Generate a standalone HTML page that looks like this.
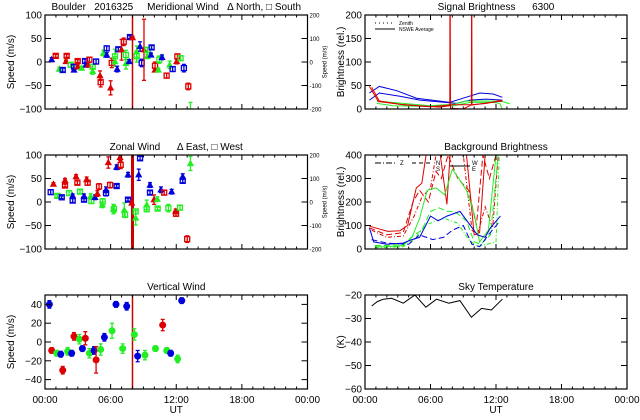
<!DOCTYPE html>
<html><head><meta charset="utf-8"><style>
html,body{margin:0;padding:0;background:#fff;}
svg{display:block;font-family:"Liberation Sans",sans-serif;}
</style></head><body>
<svg id="chart" width="640" height="420" viewBox="0 0 640 420" xmlns="http://www.w3.org/2000/svg"></svg>
<script>
// ---------- DATA ----------
const xTickLabels = ["00:00","06:00","12:00","18:00","00:00"];
const xTickHours = [0,6,12,18,24];
const markerHour = 8.0;

const merHours = [0.61,0.98,1.31,1.62,1.98,1.92,2.35,2.65,2.65,2.99,2.99,3.35,3.66,3.75,4.06,3.96,4.36,4.36,4.67,5.03,5.09,5.34,5.64,5.64,6.1,6.0,6.4,6.4,6.6,6.7,7.0,7.2,7.4,7.4,7.7,7.77,8.0,8.38,8.38,8.69,8.84,9.05,9.36,9.36,9.69,9.75,10.06,10.06,10.36,10.45,10.7,11.12,11.4,11.67,12.1,12.04,12.4,12.7,13.1,13.3];
const merVals = [5,13,-15,-17,13,1,-6,-17,-10,2,-10,-13,2,-6,5,-6,-20,-10,1,-29,-43,19,29,15,-2,-55,12,1,-15,27,26,43,15,-3,1,53,52,22,12,33,-2,26,26,12,15,31,-8,-17,-17,5,10,-29,-6,-15,12,1,8,-13,-52,-93];
const merErr = [4,3,4,4,3,3,5,4,4,3,4,4,4,5,5,5,6,5,5,10,10,6,5,5,10,15,15,10,6,4,22,8,10,12,4,3,3,12,12,10,8,65,5,5,4,4,8,4,4,8,5,5,8,5,5,5,5,8,7,7];
const merColor = ("brgbrrgbbr"+"rgbbrrggbr"+"rgbbrrggbb"+"rrggbbrggb"+"brggbbrrgg"+"brgbrrgbrg").split("");
const merShape = ("tstsststss"+"ttststtsst"+"ststststts"+"tssttsttst"+"ststtsstts"+"tstsstsssn").split("");

const zonHours = [0.52,0.77,1.13,1.53,1.83,1.83,2.2,2.53,2.53,2.84,2.96,3.2,3.57,3.57,3.81,3.9,4.18,4.24,4.57,4.79,4.94,5.24,5.27,5.58,5.58,5.79,5.95,6.25,6.3,6.55,6.55,6.86,6.92,7.25,7.32,7.59,7.59,7.93,8.29,8.29,8.69,8.57,9.3,9.3,9.6,9.6,9.97,10.27,10.3,10.6,10.9,11.28,11.58,11.95,11.98,12.34,12.59,12.59,13.0,13.3];
const zonVals = [21,38,13,10,46,35,19,13,3,54,41,22,12,5,48,41,12,2,10,18,33,-6,1,26,19,84,36,-15,-15,74,34,95,79,-17,-27,58,5,-2,-20,-34,93,58,-15,-6,36,20,5,6,-14,26,20,-13,22,-20,-25,-12,54,45,-79,82];
const zonErr = [5,3,3,3,4,3,5,4,4,4,4,4,5,4,5,5,6,5,5,6,6,6,6,6,6,12,6,10,8,5,3,6,8,15,6,5,3,4,5,15,4,12,6,10,5,4,10,5,3,6,5,8,5,5,5,5,6,4,7,15];
const zonColor = ("brgbrrgbbr"+"rgbbrrggbr"+"rggbbrrggb"+"brrggbbrgg"+"bbggbbrggb"+"rgbrrgbbrg").split("");
const zonShape = ("stsstsstst"+"sststststt"+"ststststst"+"ststststst"+"ststtsttst"+"ssttsstsst").split("");

const verHours = [0.4,0.61,1.07,1.44,1.62,2.07,2.44,2.65,3.14,3.42,3.69,4.06,4.48,4.67,5.09,5.43,6.13,6.49,7.1,7.47,8.17,8.47,9.14,10.1,10.76,11.13,11.49,12.13,12.5];
const verVals = [40,-9,-12,-13,-30,-10,-12,6,3,-7,4,-12,-9,-19,-8,5,12,40,-7,38,8,-15,-14,-7,18,-9,-12,-18,44];
const verErr = [4,3,3,3,4,4,3,4,5,3,7,5,4,14,6,4,8,3,5,4,6,6,5,3,6,3,3,4,3];
const verColor = "brgbrgbrgbrgbrgbgbgbgbggrgbgb".split("");

const skyHours = [0.61,1.13,1.68,2.44,3.51,4.57,5.58,6.55,7.68,8.69,9.75,10.67,11.58,12.59];
const skyVals = [-24.7,-22.8,-21.8,-21.4,-23.5,-20,-25.2,-21.8,-23.5,-22.4,-29.5,-25.7,-26.4,-21.8];

const sigBlue1H = [0.4,1.31,2.9,4.73,7.77,8.99,10.52,11.73,12.59];
const sigBlue1V = [34,48,39,23,14,23,34,32,25];
const sigBlue2H = [0.4,1.31,3.2,5.03,8.38,9.6,11.13,12.59];
const sigBlue2V = [19,34,27,19,12,19,21,19];
const sigRed1H = [0.61,1.31,3.2,5.03,6.86,7.77,7.79,7.83,8.99,9.75,9.77,9.80,11.13,12.59];
const sigRed1V = [46,17,10,6.5,4,7,400,1.4,0,9,400,9,12,19];
const sigRed2H = [0.4,1.22,3.51,5.94,8.08,9.91,12.59];
const sigRed2V = [48,16,9,5,9,9,17];
const sigGreen1H = [1.07,3.51,5.94,8.08,9.30,11.13,12.59,13.26];
const sigGreen1V = [17,12,7,10,17,17,16,11];
const sigGreen2H = [1.07,2.59,5.03,8.08,9.60,11.73,12.34,12.65];
const sigGreen2V = [12,7,6,6.5,14,14,12,-4];

const bgRed1H = [0.4,2.1,3.2,3.9,4.7,5.2,5.6,6.9,7.5,7.8,9.3,10,10.5,11,12];
const bgRed1V = [97,75,78,100,260,280,400,400,190,400,400,60,70,400,400];
const bgRed2H = [0.4,2,3.5,4.4,5,5.8,6.5,7,7.6,8.5,9.5,10.2,10.8,11.4,12];
const bgRed2V = [90,60,70,200,250,200,330,300,400,300,250,100,400,300,400];
const bgRed3H = [0.6,2,3.5,4.5,5.2,6,6.5,8.2,9,9.8,10.3,11,11.7,12.2];
const bgRed3V = [80,50,55,140,220,260,400,400,400,80,60,180,90,400];
const bgGreen1H = [0.9,2,3.5,4.3,5,5.7,6.5,7.3,8,8.6,9.3,10,10.5,11.3,12];
const bgGreen1V = [10,10,15,50,130,250,260,230,340,300,250,150,30,80,400];
const bgGreen2H = [0.9,2,3.5,4.5,5.2,6,6.8,7.5,8.2,9.3,10,10.6,11.5,12.2];
const bgGreen2V = [15,15,20,60,80,160,175,160,160,120,30,20,60,400];
const bgGreen3H = [0.9,3.5,4.5,5.5,6.5,7.3,8.5,9.5,10.3,12,12.3];
const bgGreen3V = [5,10,40,100,120,130,110,40,10,30,400];
const bgBlue1H = [0.4,0.8,2,3.5,4.3,5,6,6.7,7.5,8.7,9.5,10.3,11,11.5,12.4];
const bgBlue1V = [90,30,20,25,40,50,140,120,140,160,110,60,50,90,140];
const bgBlue2H = [0.6,2,4,5,6.2,7.2,8,9,9.8,10.5,11.3,12.2];
const bgBlue2V = [40,25,20,60,40,50,80,100,20,10,60,110];

// ---------- DRAWING ----------
const NS = "http://www.w3.org/2000/svg";
const svg = document.getElementById("chart");
const COL = {r:"#dd0000", g:"#22ee22", b:"#0000dd", k:"#000"};
function el(tag, attrs, parent){
  const e = document.createElementNS(NS, tag);
  for (const k in attrs) e.setAttribute(k, attrs[k]);
  (parent||svg).appendChild(e);
  return e;
}
function txt(s, x, y, size, parent, anchor, rot){
  const t = el("text", {x:x, y:y, "font-size":size, "text-anchor":anchor||"middle", fill:"#000"}, parent);
  if (rot) t.setAttribute("transform", "rotate(-90 "+x+" "+y+")");
  t.textContent = s;
  return t;
}
function makePanel(name, x0, x1, y0, y1, ymin, ymax, yticks, title, ylabel, showX, rightAxis, ylOff){
  const g = el("g", {});
  
  
  const sx = h => x0 + (h/24)*(x1-x0);
  const sy = v => y1 - (v-ymin)/(ymax-ymin)*(y1-y0);
  const clipId = name+"-clip";
  const cp = el("clipPath", {id:clipId}, g);
  el("rect", {x:x0, y:y0, width:x1-x0, height:y1-y0}, cp);
  const plot = el("g", {"clip-path":"url(#"+clipId+")"}, g);
  
  
  const fr = el("rect", {x:x0, y:y0, width:x1-x0, height:y1-y0, fill:"none", stroke:"#000", "stroke-width":1.2}, g);
  
  
  const xt = el("g", {}, g);
  
  
  for (let i=0;i<=24;i++){
    const x = sx(i);
    const L = (i%6===0)?5:2.5;
    el("line", {x1:x, y1:y1, x2:x, y2:y1-L, stroke:"#000"}, xt);
    el("line", {x1:x, y1:y0, x2:x, y2:y0+L, stroke:"#000"}, xt);
  }
  if (showX){
    xTickHours.forEach((h,i)=>{ txt(xTickLabels[i], sx(h), y1+14, 10, xt); });
    const ut = txt("UT", (x0+x1)/2, y1+24, 10, xt);
    
  }
  const yt = el("g", {}, g);
  
  
  yticks.forEach(v=>{
    const y = sy(v);
    el("line", {x1:x0, y1:y, x2:x0+6, y2:y, stroke:"#000"}, yt);
    el("line", {x1:x1, y1:y, x2:x1-6, y2:y, stroke:"#000"}, yt);
    txt(String(v).replace("-","−"), x0-3, y+3.5, 10, yt, "end");
  });
  const yl = txt(ylabel, x0-ylOff, (y0+y1)/2, 10, g, "middle", true);
  
  
  if (rightAxis){
    const ra = el("g", {}, g);
    
    
    [200,100,0,-100,-200].forEach(v=>{
      const y = y1 - (v+200)/400*(y1-y0);
      txt(String(v), x1+2, y+2.5, 6, ra, "start");
    });
    txt("Speed (m/s)", x1+19, (y0+y1)/2, 6, ra, "middle", true);
  }
  const tt = txt(title, (x0+x1)/2, y0-5, 10, g);
  
  
  tt.setAttribute("xml:space","preserve");
  tt.style.whiteSpace = "pre";
  return {g, plot, sx, sy};
}
function markerLine(p, name, width){
  const l = el("line", {x1:p.sx(markerHour), y1:0, x2:p.sx(markerHour), y2:420, stroke:"#cc0000", "stroke-width":width}, p.plot);
  
  
}
function points(p, name, H, V, E, C, S){
  H.forEach((h,i)=>{
    const x = p.sx(h), y = p.sy(V[i]);
    const c = COL[C[i]];
    const gg = el("g", {stroke:c, fill:c, "stroke-width":1.3}, p.plot);
    
    
    const ya = p.sy(V[i]+E[i]), yb = p.sy(V[i]-E[i]);
    el("line", {x1:x, y1:ya, x2:x, y2:yb}, gg);
    el("line", {x1:x-2, y1:ya, x2:x+2, y2:ya}, gg);
    el("line", {x1:x-2, y1:yb, x2:x+2, y2:yb}, gg);
    const s = S ? S[i] : "c";
    if (s==="t") el("path", {d:"M"+(x-2.5)+" "+(y+2)+"L"+(x+2.5)+" "+(y+2)+"L"+x+" "+(y-2.5)+"Z"}, gg);
    else if (s==="s") el("rect", {x:x-2.5, y:y-2.5, width:5, height:5, fill:"none"}, gg);
    else if (s==="c") el("circle", {cx:x, cy:y, r:3.5, stroke:"none"}, gg);
  });
}
function line(p, name, H, V, color, dash){
  const d = H.map((h,i)=>(i?"L":"M")+p.sx(h).toFixed(1)+" "+p.sy(V[i]).toFixed(1)).join("");
  const a = {d:d, fill:"none", stroke:color, "stroke-width":1};
  if (dash) a["stroke-dasharray"] = dash;
  const l = el("path", a, p.plot);
  
  
}

const p1 = makePanel("meridional-wind-panel",45,307.5,15,109,-100,100,[100,50,0,-50,-100],
  "Boulder   2016325     Meridional Wind   Δ North, □ South","Speed (m/s)",false,true,31);
markerLine(p1, "meridional-marker-line", 1.5);
points(p1, "meridional", merHours, merVals, merErr, merColor, merShape);

const p2 = makePanel("zonal-wind-panel",45,307.5,155,249,-100,100,[100,50,0,-50,-100],
  "Zonal Wind      Δ East, □ West","Speed (m/s)",false,true,31);
markerLine(p2, "zonal-marker-line", 3);
points(p2, "zonal", zonHours, zonVals, zonErr, zonColor, zonShape);

const p3 = makePanel("vertical-wind-panel",45,307.5,295,389,-50,50,[40,20,0,-20,-40],
  "Vertical Wind","Speed (m/s)",true,false,31);
markerLine(p3, "vertical-marker-line", 1.5);
points(p3, "vertical", verHours, verVals, verErr, verColor, null);

const p4 = makePanel("signal-brightness-panel",365,627,15,109,0,200,[200,150,100,50,0],
  "Signal Brightness      6300","Brightness (rel.)",false,false,21);
line(p4,"signal-blue-1",sigBlue1H,sigBlue1V,COL.b);
line(p4,"signal-blue-2",sigBlue2H,sigBlue2V,COL.b);
line(p4,"signal-green-1",sigGreen1H,sigGreen1V,COL.g);
line(p4,"signal-green-2",sigGreen2H,sigGreen2V,COL.g);
line(p4,"signal-red-1",sigRed1H,sigRed1V,COL.r);
line(p4,"signal-red-2",sigRed2H,sigRed2V,COL.r);
const lg1 = el("g",{});


el("line",{x1:375,y1:23,x2:395,y2:23,stroke:"#000","stroke-dasharray":"1,3"},lg1);
txt("Zenith",399,25,5,lg1,"start");
el("line",{x1:375,y1:29,x2:395,y2:29,stroke:"#000"},lg1);
txt("NSWE Average",399,31,5,lg1,"start");

const p5 = makePanel("background-brightness-panel",365,627,155,249,0,400,[400,300,200,100,0],
  "Background Brightness","Brightness (rel.)",false,false,21);
line(p5,"bg-red-1",bgRed1H,bgRed1V,COL.r);
line(p5,"bg-red-2",bgRed2H,bgRed2V,COL.r,"6,3");
line(p5,"bg-red-3",bgRed3H,bgRed3V,COL.r,"4,2,1,2");
line(p5,"bg-green-1",bgGreen1H,bgGreen1V,COL.g);
line(p5,"bg-green-2",bgGreen2H,bgGreen2V,COL.g,"6,3");
line(p5,"bg-green-3",bgGreen3H,bgGreen3V,COL.g,"4,2,1,2");
line(p5,"bg-blue-1",bgBlue1H,bgBlue1V,COL.b);
line(p5,"bg-blue-2",bgBlue2H,bgBlue2V,COL.b,"6,3");
const lg2 = el("g",{});


el("line",{x1:375,y1:163,x2:395,y2:163,stroke:"#000","stroke-dasharray":"6,2,1,2"},lg2);
txt("Z",400,165,6,lg2,"start");
el("line",{x1:412,y1:163,x2:430,y2:163,stroke:"#000","stroke-dasharray":"4,3"},lg2);
txt("N",436,165,6,lg2,"start"); txt("S",436,171,6,lg2,"start");
el("line",{x1:450,y1:166,x2:470,y2:166,stroke:"#000"},lg2);
txt("W",472,165,6,lg2,"start"); txt("E",472,171,6,lg2,"start");

const p6 = makePanel("sky-temperature-panel",365,627,295,389,-60,-20,[-20,-30,-40,-50,-60],
  "Sky Temperature","(K)",true,false,21);
line(p6,"sky-temperature-line",skyHours,skyVals,"#000");
</script>
</body></html>
